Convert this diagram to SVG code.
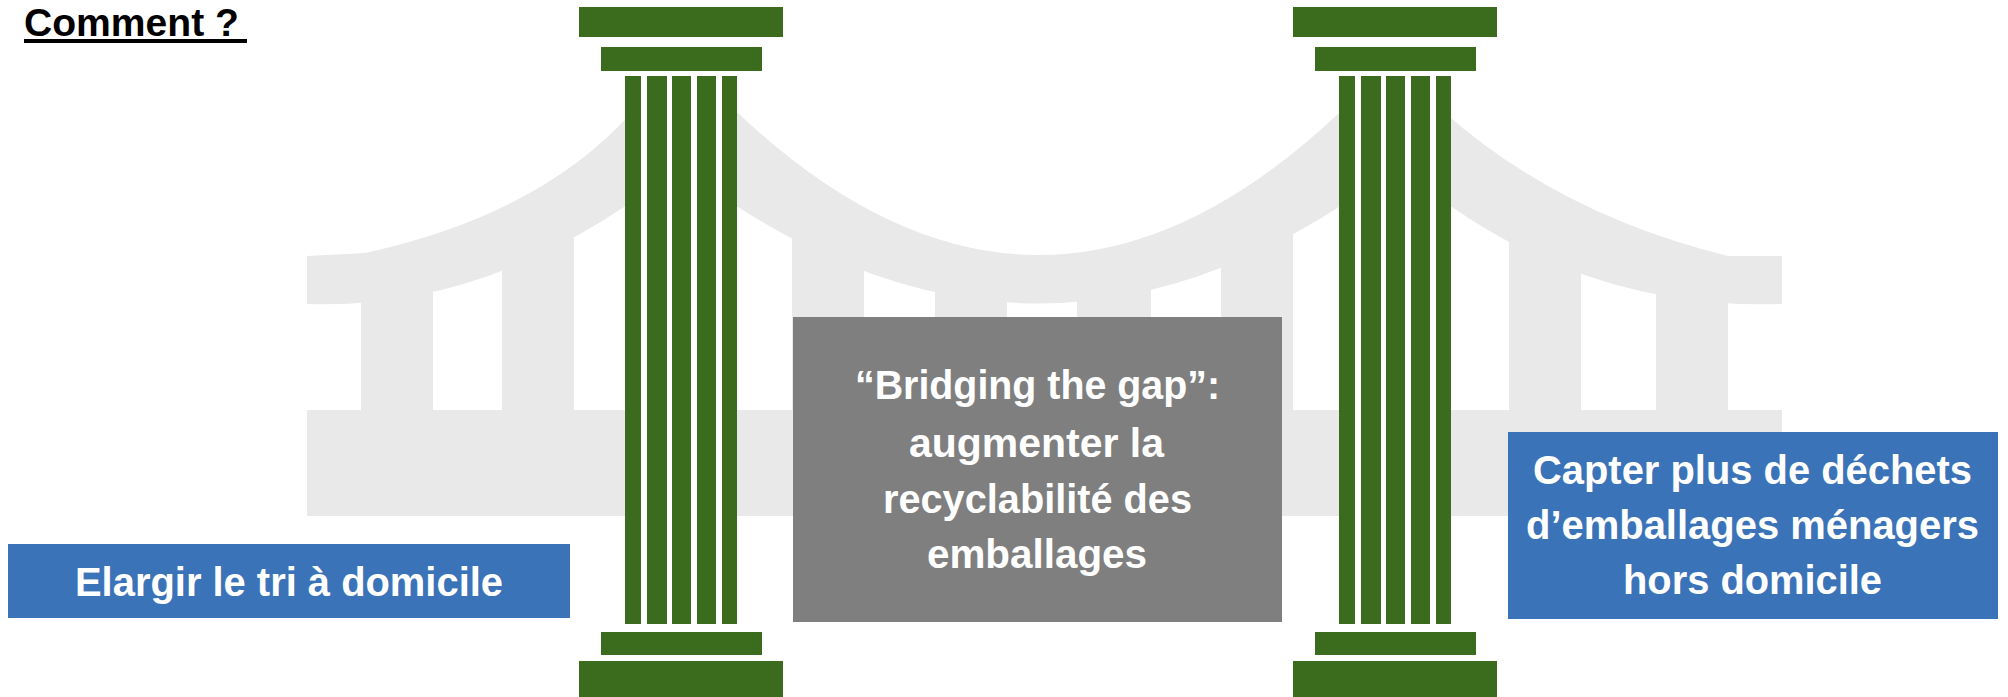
<svg xmlns="http://www.w3.org/2000/svg" width="2008" height="697" viewBox="0 0 2008 697">
<defs>
<style>
.bg{fill:#e9e9e9}
.gr{fill:#3b6b1c}
.t{font-family:"Liberation Sans",Arial,sans-serif;font-weight:bold;font-size:40px;fill:#ffffff;text-anchor:middle}
.blue{fill:#3b73b9}
.grey{fill:#7f7f7f}
</style>
<g id="pillarShape">
<rect class="gr" x="579" y="7" width="204" height="30"/>
<rect class="gr" x="601" y="47" width="161" height="24"/>
<rect fill="#ffffff" x="625" y="71" width="112" height="561"/>
<rect class="gr" x="625" y="76" width="16" height="548"/>
<rect class="gr" x="647" y="76" width="20" height="548"/>
<rect class="gr" x="672" y="76" width="19" height="548"/>
<rect class="gr" x="697" y="76" width="19" height="548"/>
<rect class="gr" x="722" y="76" width="15" height="548"/>
<rect class="gr" x="601" y="632" width="161" height="23"/>
<rect class="gr" x="579" y="661" width="204" height="36"/>
</g>
</defs>
<rect width="2008" height="697" fill="#ffffff"/>
<g id="bridge">
<rect class="bg" x="307" y="410" width="1475" height="106"/>
<path class="bg" d="M307,256 L365,253 Q540,215 632,112 L632,207 L624,207 Q470,310 307,304 Z"/>
<path class="bg" d="M730,110 L738,113 Q1038,397 1339,113 L1347,110 L1347,207 L1339,207 Q1038,400 738,207 L730,207 Z"/>
<path class="bg" d="M1782,256 L1728,256 Q1560,215 1444,112 L1444,207 L1452,207 Q1600,310 1782,304 Z"/>
<rect class="bg" x="361" y="280" width="72" height="131"/>
<rect class="bg" x="502" y="220" width="72" height="191"/>
<rect class="bg" x="792" y="225" width="72" height="186"/>
<rect class="bg" x="935" y="265" width="72" height="146"/>
<rect class="bg" x="1077" y="265" width="74" height="146"/>
<rect class="bg" x="1221" y="225" width="72" height="186"/>
<rect class="bg" x="1509" y="220" width="72" height="191"/>
<rect class="bg" x="1656" y="280" width="72" height="131"/>
</g>
<g id="pillar-left">
<use href="#pillarShape"/>
</g>
<g id="pillar-right">
<use href="#pillarShape" transform="translate(714,0)"/>
</g>
<g id="title">
<text x="24" y="36" font-family="'Liberation Sans',Arial,sans-serif" font-weight="bold" font-size="38" fill="#000000" textLength="215" lengthAdjust="spacingAndGlyphs">Comment ?</text>
<rect x="24" y="39" width="223" height="4" fill="#000000"/>
</g>
<g id="node-left">
<rect class="blue" x="8" y="544" width="562" height="74"/>
<text class="t" x="289" y="596" textLength="428" lengthAdjust="spacingAndGlyphs">Elargir le tri à domicile</text>
</g>
<g id="node-center">
<rect class="grey" x="793" y="317" width="489" height="305"/>
<text class="t" x="1037.5" y="399" textLength="365" lengthAdjust="spacingAndGlyphs">“Bridging the gap”:</text>
<text class="t" x="1036.5" y="457" textLength="255" lengthAdjust="spacingAndGlyphs">augmenter la</text>
<text class="t" x="1037.5" y="513" textLength="309" lengthAdjust="spacingAndGlyphs">recyclabilité des</text>
<text class="t" x="1037" y="568" textLength="220" lengthAdjust="spacingAndGlyphs">emballages</text>
</g>
<g id="node-right">
<rect class="blue" x="1508" y="432" width="490" height="187"/>
<text class="t" x="1752.5" y="484" textLength="439" lengthAdjust="spacingAndGlyphs">Capter plus de déchets</text>
<text class="t" x="1752.5" y="539" textLength="453" lengthAdjust="spacingAndGlyphs">d’emballages ménagers</text>
<text class="t" x="1752.5" y="594" textLength="259" lengthAdjust="spacingAndGlyphs">hors domicile</text>
</g>
<g id="connectors"/>
</svg>
